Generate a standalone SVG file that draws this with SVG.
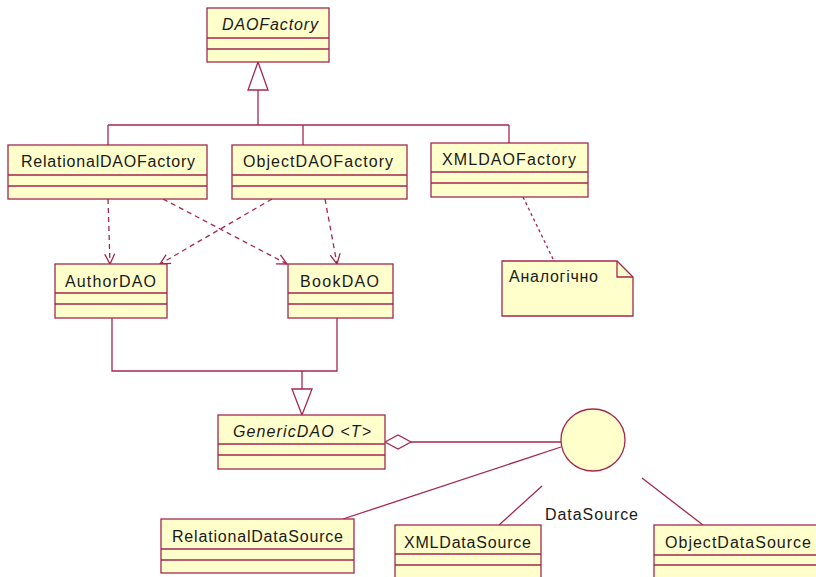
<svg xmlns="http://www.w3.org/2000/svg" width="816" height="577" viewBox="0 0 816 577">
  <style>
    .box { fill: #FFFFCC; stroke: #A3284F; stroke-width: 1.3; }
    .div { stroke: #A3284F; stroke-width: 1.3; fill: none; }
    .lbl { font-family: "Liberation Sans", Arial, sans-serif; font-size: 16px; fill: #1a1a1a; }
    .it { font-style: italic; }
    .ln { stroke: #A3284F; stroke-width: 1.3; fill: none; }
    .dep { stroke: #A3284F; stroke-width: 1.3; fill: none; stroke-dasharray: 5 4; }
    .dot { stroke: #A3284F; stroke-width: 1.3; fill: none; stroke-dasharray: 3 3; }
    .head { stroke: #A3284F; stroke-width: 1.3; fill: #FFFFFF; }
  </style>
  <defs>
    <marker id="open" markerUnits="userSpaceOnUse" markerWidth="14" markerHeight="14" refX="11" refY="6" orient="auto">
      <path d="M1,1 L11,6 L1,11" fill="none" stroke="#A3284F" stroke-width="1.3"/>
    </marker>
  </defs>

  <rect width="816" height="577" fill="#FFFFFF"/>

  <g id="connectors">
    <!-- generalization to DAOFactory -->
    <path class="ln" d="M258,90 V125 M108,125 H509 M108,125 V145 M303,125 V145 M509,125 V143"/>
    <polygon class="head" points="258,62 248,90 268,90"/>
    <!-- generalization to GenericDAO -->
    <path class="ln" d="M112,318 V371 H337 V318 M302,371 V389"/>
    <polygon class="head" points="302,415 292,389 312,389"/>
    <!-- dependencies -->
    <line class="dep" x1="108" y1="199" x2="110" y2="264" marker-end="url(#open)"/>
    <line class="dep" x1="163" y1="199" x2="287" y2="264" marker-end="url(#open)"/>
    <line class="dep" x1="272" y1="199" x2="160" y2="264" marker-end="url(#open)"/>
    <line class="dep" x1="325" y1="199" x2="337" y2="264" marker-end="url(#open)"/>
    <!-- note anchor -->
    <line class="dot" x1="523" y1="197" x2="554" y2="261"/>
    <!-- aggregation -->
    <line class="ln" x1="411" y1="442" x2="561" y2="442"/>
    <polygon class="head" points="385,442 398,435 411,442 398,449"/>
    <!-- realizations of DataSource -->
    <line class="ln" x1="561" y1="447" x2="343" y2="519"/>
    <line class="ln" x1="542" y1="486" x2="499" y2="525"/>
    <line class="ln" x1="642" y1="478" x2="703" y2="525"/>
  </g>

  <g id="DAOFactory">
    <rect class="box" x="207" y="8" width="122" height="54"/>
    <path class="div" d="M207,38 H329 M207,49 H329"/>
    <text class="lbl it" x="222" y="30" textLength="96" lengthAdjust="spacing">DAOFactory</text>
  </g>

  <g id="RelationalDAOFactory">
    <rect class="box" x="8" y="145" width="199" height="54"/>
    <path class="div" d="M8,175 H207 M8,186 H207"/>
    <text class="lbl" x="21" y="167" textLength="174" lengthAdjust="spacing">RelationalDAOFactory</text>
  </g>

  <g id="ObjectDAOFactory">
    <rect class="box" x="232" y="145" width="175" height="54"/>
    <path class="div" d="M232,175 H407 M232,186 H407"/>
    <text class="lbl" x="243" y="167" textLength="150" lengthAdjust="spacing">ObjectDAOFactory</text>
  </g>

  <g id="XMLDAOFactory">
    <rect class="box" x="431" y="143" width="157" height="54"/>
    <path class="div" d="M431,172 H588 M431,183 H588"/>
    <text class="lbl" x="442" y="165" textLength="134" lengthAdjust="spacing">XMLDAOFactory</text>
  </g>

  <g id="note">
    <path class="box" d="M502,261 H617 L633,277 V316 H502 Z"/>
    <path class="div" d="M617,261 V277 H633"/>
    <text class="lbl" x="509" y="282" textLength="89" lengthAdjust="spacing">Аналогічно</text>
  </g>

  <g id="AuthorDAO">
    <rect class="box" x="55" y="264" width="112" height="54"/>
    <path class="div" d="M55,293 H167 M55,304 H167"/>
    <text class="lbl" x="65" y="287" textLength="91" lengthAdjust="spacing">AuthorDAO</text>
  </g>

  <g id="BookDAO">
    <rect class="box" x="288" y="264" width="105" height="54"/>
    <path class="div" d="M288,293 H393 M288,304 H393"/>
    <text class="lbl" x="300" y="287" textLength="79" lengthAdjust="spacing">BookDAO</text>
  </g>

  <g id="GenericDAO">
    <rect class="box" x="218" y="415" width="167" height="54"/>
    <path class="div" d="M218,444 H385 M218,455 H385"/>
    <text class="lbl it" x="233" y="437" textLength="138" lengthAdjust="spacing">GenericDAO &lt;T&gt;</text>
  </g>

  <g id="DataSource">
    <ellipse class="box" cx="593" cy="440" rx="32" ry="31"/>
    <text class="lbl" x="545" y="520" textLength="93" lengthAdjust="spacing">DataSource</text>
  </g>

  <g id="RelationalDataSource">
    <rect class="box" x="161" y="519" width="193" height="54"/>
    <path class="div" d="M161,549 H354 M161,560 H354"/>
    <text class="lbl" x="172" y="542" textLength="171" lengthAdjust="spacing">RelationalDataSource</text>
  </g>

  <g id="XMLDataSource">
    <rect class="box" x="395" y="525" width="146" height="60"/>
    <path class="div" d="M395,554 H541 M395,565 H541"/>
    <text class="lbl" x="404" y="548" textLength="127" lengthAdjust="spacing">XMLDataSource</text>
  </g>

  <g id="ObjectDataSource">
    <rect class="box" x="654" y="525" width="170" height="60"/>
    <path class="div" d="M654,555 H824 M654,565 H824"/>
    <text class="lbl" x="665" y="548" textLength="146" lengthAdjust="spacing">ObjectDataSource</text>
  </g>
</svg>
